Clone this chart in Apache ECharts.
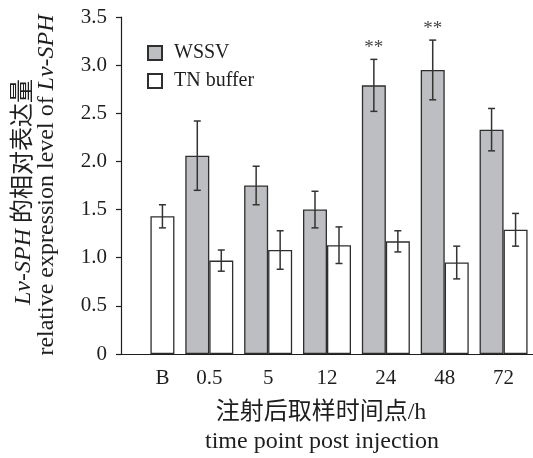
<!DOCTYPE html>
<html>
<head>
<meta charset="utf-8">
<script src="https://cdn.jsdelivr.net/npm/echarts@6/dist/echarts.min.js"></script>
<style>
html,body{margin:0;padding:0;background:#fff;}
#chart{width:533px;height:458px;}
</style>
</head>
<body>
<div id="chart"></div>
<script>
// ---- data ----
const categories = ['B', '0.5', '5', '12', '24', '48', '72'];
const wssv = [null, 2.06, 1.75, 1.50, 2.79, 2.95, 2.33];
const wssvErr = [null, 0.36, 0.20, 0.19, 0.27, 0.31, 0.22];
const tnBuffer = [1.43, 0.97, 1.08, 1.13, 1.17, 0.95, 1.29];
const tnErr = [0.12, 0.11, 0.20, 0.19, 0.11, 0.17, 0.17];
const significance = ['', '', '', '', '**', '**', ''];

const FONT = '"Liberation Serif", "Times New Roman", "Noto Sans CJK SC", serif';
const INK = '#1e1e1e';
const BAR_W = 24;

function errData(vals, errs) {
  const out = [];
  vals.forEach((v, i) => {
    if (v != null) out.push([i, v - errs[i], v + errs[i]]);
  });
  return out;
}

function makeErrRender(offset, withSig) {
  return function (params, api) {
    const i = api.value(0);
    const lo = api.coord([i, api.value(1)]);
    const hi = api.coord([i, api.value(2)]);
    const x = lo[0] + offset;
    const st = { stroke: '#333', lineWidth: 1.5 };
    const children = [
      { type: 'line', shape: { x1: x, y1: lo[1], x2: x, y2: hi[1] }, style: st },
      { type: 'line', shape: { x1: x - 3.5, y1: lo[1], x2: x + 3.5, y2: lo[1] }, style: st },
      { type: 'line', shape: { x1: x - 3.5, y1: hi[1], x2: x + 3.5, y2: hi[1] }, style: st }
    ];
    if (withSig && significance[i]) {
      children.push({
        type: 'text',
        style: {
          text: significance[i], x: x, y: hi[1] - 2,
          align: 'center', verticalAlign: 'bottom',
          fontFamily: FONT, fontSize: 19, fill: '#444'
        }
      });
    }
    return { type: 'group', children: children };
  };
}

const chart = echarts.init(document.getElementById('chart'), null, { renderer: 'canvas' });

const catData = categories.map((c, i) => i === 0
  ? { value: c, textStyle: { padding: [0, 0, 0, 24] } }
  : c);

const nameRich = {
  i: { fontStyle: 'italic', fontFamily: FONT, fontSize: 24, fill: INK },
  n: { fontFamily: FONT, fontSize: 24, fill: INK }
};

chart.setOption({
  animation: false,
  backgroundColor: '#fff',
  grid: { left: 121, right: -3, top: 17, bottom: 104, containLabel: false },
  legend: {
    orient: 'vertical', left: 147, top: 43, padding: 0,
    itemWidth: 14, itemHeight: 14, itemGap: 8,
    icon: 'rect',
    data: ['WSSV', 'TN buffer'],
    textStyle: { fontFamily: FONT, fontSize: 20, color: INK, padding: [0, 0, 0, 7] }
  },
  xAxis: {
    type: 'category',
    data: catData,
    axisLine: { lineStyle: { color: INK, width: 1.2 } },
    axisTick: { show: false },
    axisLabel: { fontFamily: FONT, fontSize: 21, color: INK, margin: 14 },
    splitLine: { show: false }
  },
  yAxis: {
    type: 'value', min: 0, max: 3.5, interval: 0.5,
    axisLine: { show: true, lineStyle: { color: INK, width: 1.2 } },
    axisTick: { show: true, inside: false, length: 5, lineStyle: { color: INK, width: 1.2 } },
    axisLabel: {
      fontFamily: FONT, fontSize: 21, color: INK, margin: 14,
      formatter: v => (v === 0 ? '0' : v.toFixed(1))
    },
    splitLine: { show: false }
  },
  series: [
    {
      name: 'WSSV', type: 'bar', data: wssv, barWidth: BAR_W, barGap: '0%',
      itemStyle: { color: '#bdbec2', borderColor: '#2e2e2e', borderWidth: 1.3 }
    },
    {
      name: 'TN buffer', type: 'bar', data: tnBuffer, barWidth: BAR_W, barGap: '0%',
      itemStyle: { color: '#ffffff', borderColor: '#2e2e2e', borderWidth: 1.3 }
    },
    {
      name: 'WSSV error', type: 'custom', z: 5,
      data: errData(wssv, wssvErr),
      encode: { x: 0, y: [1, 2] },
      renderItem: makeErrRender(-BAR_W / 2, true)
    },
    {
      name: 'TN error', type: 'custom', z: 5,
      data: errData(tnBuffer, tnErr),
      encode: { x: 0, y: [1, 2] },
      renderItem: makeErrRender(BAR_W / 2, false)
    }
  ],
  graphic: [
    {
      type: 'text', x: 24, y: 192, rotation: Math.PI / 2,
      style: {
        text: '{i|Lv-SPH}{n| 的相对表达量}',
        align: 'center', verticalAlign: 'middle',
        fontFamily: FONT, fontSize: 24, fill: INK,
        rich: nameRich
      }
    },
    {
      type: 'text', x: 47, y: 185, rotation: Math.PI / 2,
      style: {
        text: '{n|relative expression level of }{i|Lv-SPH}',
        align: 'center', verticalAlign: 'middle',
        fontFamily: FONT, fontSize: 24, fill: INK,
        rich: nameRich
      }
    },
    {
      type: 'text', x: 321, y: 413,
      style: {
        text: '注射后取样时间点/h',
        align: 'center', verticalAlign: 'middle',
        fontFamily: FONT, fontSize: 24, fill: INK
      }
    },
    {
      type: 'text', x: 322, y: 442,
      style: {
        text: 'time point post injection',
        align: 'center', verticalAlign: 'middle',
        fontFamily: FONT, fontSize: 24, fill: INK
      }
    }
  ]
});
</script>
</body>
</html>
